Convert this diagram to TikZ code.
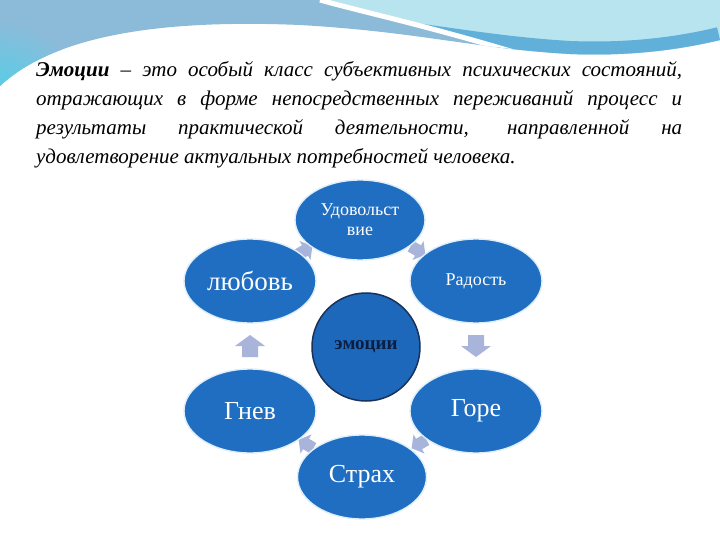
\documentclass[tikz,border=0pt]{standalone}
\usepackage{fontspec}
\setmainfont{Liberation Serif}
\usetikzlibrary{shapes.geometric,calc}
\definecolor{nodeblue}{RGB}{31,110,193}
\definecolor{circblue}{RGB}{29,104,186}
\definecolor{circedge}{RGB}{25,50,90}
\definecolor{arrowc}{RGB}{168,180,218}
\definecolor{edgelight}{RGB}{222,238,250}
\definecolor{wcyan}{RGB}{80,208,232}
\definecolor{wsteel}{RGB}{140,187,217}
\definecolor{wlight}{RGB}{184,228,239}
\definecolor{wband}{RGB}{96,176,218}
\definecolor{navytext}{RGB}{12,30,64}
\begin{document}
\begin{tikzpicture}[x=1pt,y=-1pt,
  emo/.style={ellipse, fill=nodeblue, draw=edgelight, line width=1.4pt,
    minimum width=132pt, minimum height=84pt, inner sep=0pt, text=white,
    font=\fontsize{26}{28}\selectfont, align=center},
  emosmall/.style={emo, font=\fontsize{18}{20}\selectfont},
  core/.style={circle, fill=circblue, draw=circedge, line width=1.5pt,
    minimum size=108pt, inner sep=0pt, text=navytext,
    font=\bfseries\fontsize{19}{21}\selectfont},
  bigarr/.pic={\fill[arrowc] (-11,-8) -- (0,-8) -- (0,-15) -- (11,0)
    -- (0,15) -- (0,8) -- (-11,8) -- cycle;},
  smallarr/.pic={\fill[arrowc] (-8.5,-6) -- (0,-6) -- (0,-11) -- (8.5,0)
    -- (0,11) -- (0,6) -- (-8.5,6) -- cycle;}
]
% background
\fill[white] (0,0) rectangle (720,540);
\useasboundingbox (0,0) rectangle (720,540);
% top wave
\begin{scope}
  \clip (0,0) -- (720,0) -- (720,40) .. controls (670,52) and (620,56) .. (570,54)
    .. controls (470,48) and (420,32) .. (300,25)
    .. controls (180,20) and (60,30) .. (0,86) -- cycle;
  \fill[wsteel] (0,0) rectangle (720,100);
  \shade[inner color=wcyan, outer color=wsteel] (0,100) circle (80);
  \begin{scope}
    \clip (320,0) .. controls (370,14) and (430,26) .. (540,60) -- (720,70) -- (720,0) -- cycle;
    \fill[wlight] (300,0) rectangle (720,100);
    \draw[wband, line width=26pt] (720,40) .. controls (670,52) and (620,56) .. (570,54)
      .. controls (470,48) and (420,32) .. (300,25);
  \end{scope}
  \draw[white, line width=5pt] (320,0) .. controls (370,14) and (430,26) .. (540,60);
\end{scope}
% definition text
\node[anchor=north west, text width=646pt, align=justify, inner sep=0pt,
  font=\itshape\fontsize{21}{29}\selectfont] (def) at (36,61)
  {\textbf{Эмоции} – это особый класс субъективных психических состояний,\linebreak
   отражающих в форме непосредственных переживаний процесс и\linebreak
   результаты практической деятельности, направленной на\linebreak
   удовлетворение актуальных потребностей человека.};
% node centres (used to place the cycle arrows)
\coordinate (cTop) at (360,220);
\coordinate (cLove) at (250,281);
\coordinate (cJoy) at (476,281);
\coordinate (cAnger) at (250,411);
\coordinate (cGrief) at (476,411);
\coordinate (cFear) at (362,477);
% arrows (behind ellipses)
\pic (a1) [rotate=30] at ($(cLove)!0.5!(cTop)$) {smallarr};
\pic (a2) [rotate=-30] at ($(cTop)!0.5!(cJoy)$) {smallarr};
\pic (a3) [rotate=270] at ($(cJoy)!0.5!(cGrief)$) {bigarr};
\pic (a4) [rotate=-150] at ($(cGrief)!0.5!(cFear)$) {smallarr};
\pic (a5) [rotate=150] at ($(cFear)!0.5!(cAnger)$) {smallarr};
\pic (a6) [rotate=90] at ($(cAnger)!0.5!(cLove)$) {bigarr};
% ellipses
\node[emosmall, minimum width=130pt, minimum height=80pt] (top) at (cTop) {Удовольст\\вие};
\node[emo, font=\fontsize{27}{29}\selectfont] (love) at (cLove) {любовь};
\node[emosmall] (joy) at (cJoy) {Радость};
\node[emo] (anger) at (cAnger) {Гнев};
\node[emo] (grief) at (cGrief) {Горе};
\node[emo, minimum width=129pt] (fear) at (cFear) {Страх};
\node[core] (core) at (366,347) {эмоции};
\end{tikzpicture}
\end{document}
